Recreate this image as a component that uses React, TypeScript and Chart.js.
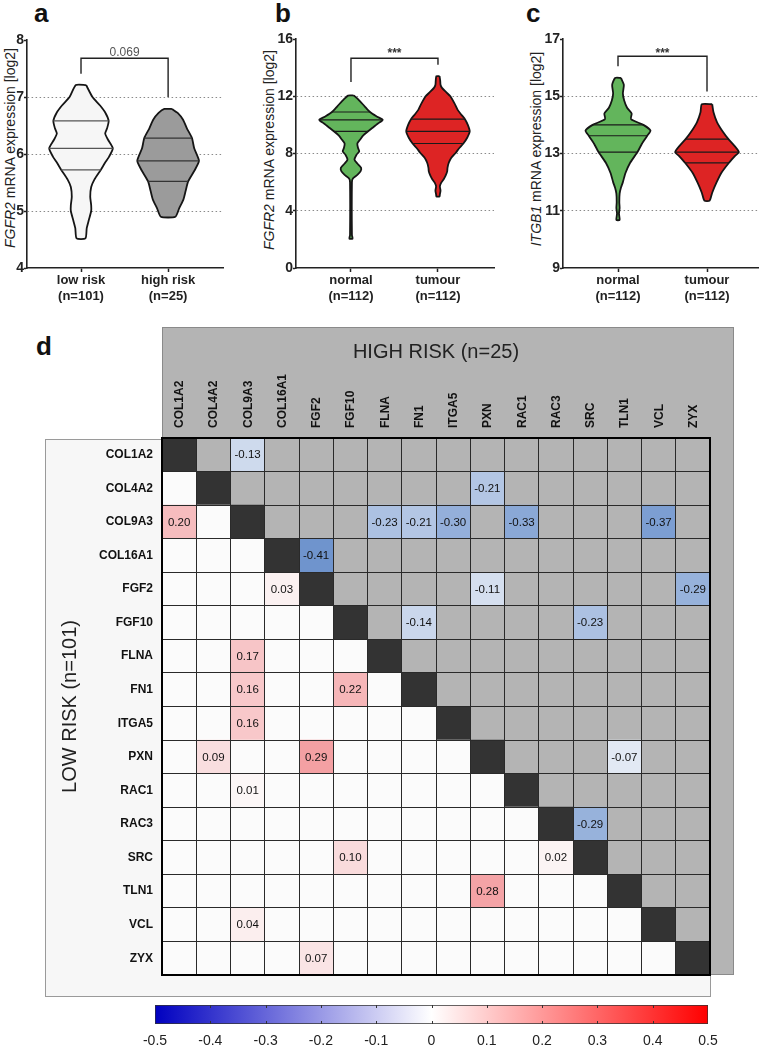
import React, { useEffect, useRef } from 'react';
import { Chart, registerables } from 'chart.js';

Chart.register(...registerables);

const FONT = '"Liberation Sans", Arial, Helvetica, sans-serif';
Chart.defaults.font.family = FONT;

// ---------------- Panel a: FGFR2, low vs high risk ----------------
const A_CATEGORIES = [['low risk', '(n=101)'], ['high risk', '(n=25)']];
// [value, relative half-width]
const A_LOW_PROFILE: [number, number][] = [
  [7.21, 0.16], [7.0, 0.36], [6.85, 0.6], [6.72, 0.77], [6.58, 0.87], [6.45, 0.82], [6.36, 0.76],
  [6.25, 0.85], [6.1, 1.0], [5.95, 0.88], [5.85, 0.76], [5.72, 0.62], [5.55, 0.42], [5.42, 0.32],
  [5.25, 0.29], [5.1, 0.32], [5.0, 0.32], [4.85, 0.25], [4.7, 0.18], [4.52, 0.14],
];
const A_HIGH_PROFILE: [number, number][] = [
  [6.79, 0.12], [6.72, 0.3], [6.6, 0.47], [6.45, 0.59], [6.28, 0.75], [6.1, 0.82], [5.88, 0.97],
  [5.72, 0.84], [5.52, 0.63], [5.35, 0.55], [5.2, 0.48], [5.05, 0.35], [4.9, 0.23],
];
const A_LOW_QUARTILES: [number, number][] = [[6.58, 0.87], [6.1, 1.0], [5.72, 0.62]];
const A_HIGH_QUARTILES: [number, number][] = [[6.28, 0.75], [5.88, 0.97], [5.52, 0.63]];
const A_BRACKET: [number, number][] = [[1, 7.41], [1, 7.68], [2, 7.68], [2, 7.0]];
const A_P_TEXT = '0.069';

// ---------------- Panel b: FGFR2, normal vs tumour ----------------
const BC_CATEGORIES = [['normal', '(n=112)'], ['tumour', '(n=112)']];
const B_NORMAL_PROFILE: [number, number][] = [
  [12.05, 0.09], [11.8, 0.22], [11.3, 0.43], [10.9, 0.6], [10.6, 0.8], [10.35, 1.0], [10.1, 0.85],
  [9.8, 0.68], [9.55, 0.54], [9.25, 0.38], [8.98, 0.29], [8.7, 0.2], [8.4, 0.22], [8.15, 0.26],
  [7.9, 0.17], [7.57, 0.11], [7.3, 0.2], [7.0, 0.32], [6.75, 0.3], [6.5, 0.2], [6.25, 0.06],
  [6.0, 0.03], [2.3, 0.03], [2.05, 0.05],
];
const B_TUMOUR_PROFILE: [number, number][] = [
  [13.4, 0.05], [13.1, 0.07], [12.8, 0.08], [12.6, 0.12], [12.3, 0.25], [12.0, 0.39], [11.5, 0.52],
  [11.05, 0.62], [10.7, 0.74], [10.4, 0.85], [10.0, 0.94], [9.55, 1.0], [9.1, 0.92], [8.7, 0.8],
  [8.35, 0.66], [8.05, 0.56], [7.7, 0.42], [7.35, 0.34], [7.0, 0.3], [6.75, 0.29], [6.45, 0.24],
  [6.2, 0.18], [5.95, 0.1], [5.7, 0.06], [5.4, 0.08], [5.15, 0.06], [5.0, 0.05],
];
const B_NORMAL_QUARTILES: [number, number][] = [[10.9, 0.6], [10.35, 1.0], [9.55, 0.54]];
const B_TUMOUR_QUARTILES: [number, number][] = [[10.4, 0.85], [9.55, 1.0], [8.7, 0.8]];
const B_BRACKET: [number, number][] = [[1, 13.0], [1, 14.65], [2, 14.65], [2, 14.2]];

// ---------------- Panel c: ITGB1, normal vs tumour ----------------
const C_NORMAL_PROFILE: [number, number][] = [
  [15.64, 0.09], [15.4, 0.18], [15.1, 0.15], [14.85, 0.19], [14.6, 0.28], [14.4, 0.42], [14.2, 0.4],
  [14.0, 0.78], [13.8, 1.0], [13.62, 0.9], [13.35, 0.74], [13.05, 0.6], [12.67, 0.37], [12.32, 0.23],
  [12.0, 0.15], [11.8, 0.09], [11.6, 0.05], [11.3, 0.04], [11.1, 0.05], [10.9, 0.03], [10.68, 0.05],
];
const C_TUMOUR_PROFILE: [number, number][] = [
  [14.72, 0.16], [14.44, 0.2], [14.09, 0.31], [13.74, 0.5], [13.5, 0.66], [13.3, 0.82], [13.05, 0.98],
  [12.9, 0.85], [12.67, 0.67], [12.32, 0.44], [11.98, 0.29], [11.63, 0.16], [11.35, 0.08],
];
const C_NORMAL_QUARTILES: [number, number][] = [[14.0, 0.78], [13.62, 0.9], [13.05, 0.6]];
const C_TUMOUR_QUARTILES: [number, number][] = [[13.5, 0.66], [13.05, 0.98], [12.67, 0.67]];
const C_BRACKET: [number, number][] = [[1, 16.05], [1, 16.4], [2, 16.4], [2, 15.17]];
const SIG_TEXT = '***';

// ---------------- Panel d: correlation matrix ----------------
const GENES = ['COL1A2', 'COL4A2', 'COL9A3', 'COL16A1', 'FGF2', 'FGF10', 'FLNA', 'FN1', 'ITGA5', 'PXN', 'RAC1', 'RAC3', 'SRC', 'TLN1', 'VCL', 'ZYX'];
// [row gene, column gene, r] – upper triangle, high risk
const HIGH_RISK_CORR: [string, string, number][] = [
  ['COL1A2', 'COL9A3', -0.13],
  ['COL4A2', 'PXN', -0.21],
  ['COL9A3', 'FLNA', -0.23], ['COL9A3', 'FN1', -0.21], ['COL9A3', 'ITGA5', -0.30], ['COL9A3', 'RAC1', -0.33], ['COL9A3', 'VCL', -0.37],
  ['COL16A1', 'FGF2', -0.41],
  ['FGF2', 'PXN', -0.11], ['FGF2', 'ZYX', -0.29],
  ['FGF10', 'FN1', -0.14], ['FGF10', 'SRC', -0.23],
  ['PXN', 'TLN1', -0.07],
  ['RAC3', 'SRC', -0.29],
];
// lower triangle, low risk
const LOW_RISK_CORR: [string, string, number][] = [
  ['COL9A3', 'COL1A2', 0.20],
  ['FGF2', 'COL16A1', 0.03],
  ['FLNA', 'COL9A3', 0.17],
  ['FN1', 'COL9A3', 0.16], ['FN1', 'FGF10', 0.22],
  ['ITGA5', 'COL9A3', 0.16],
  ['PXN', 'COL4A2', 0.09], ['PXN', 'FGF2', 0.29],
  ['RAC1', 'COL9A3', 0.01],
  ['SRC', 'FGF10', 0.10], ['SRC', 'RAC3', 0.02],
  ['TLN1', 'PXN', 0.28],
  ['VCL', 'COL9A3', 0.04],
  ['ZYX', 'FGF2', 0.07],
];
const COLORBAR_MIN = -0.5;
const COLORBAR_MAX = 0.5;
const COLORBAR_STEP = 0.1;

// ---------------- helpers ----------------
const VW = 0.365; // half-width of widest violin part in x units

type ViolinSpec = {
  categories: string[][];
  profiles: [number, number][][];
  quartiles: [number, number][][];
  fills: string[];
  quartileColors: string[];
  yMin: number; yMax: number; yStep: number;
  xMin: number; xMax: number;
  bracket: [number, number][];
  sigText: string; sigY: number; sigBold: boolean; sigColor: string; sigSize: number;
  yAxisWidth: number; xAxisHeight: number; padTop: number; padRight: number;
};

function makeViolinConfig(s: ViolinSpec): any {
  const datasets: any[] = [];
  s.profiles.forEach((prof, i) => {
    const c = i + 1;
    const right = prof.map(([y, w]) => ({ x: c + w * VW, y }));
    const left = prof.slice().reverse().map(([y, w]) => ({ x: c - w * VW, y }));
    datasets.push({
      data: [...right, ...left, right[0]],
      showLine: true, fill: 'shape', backgroundColor: s.fills[i],
      borderColor: '#151515', borderWidth: 1.8, pointRadius: 0, tension: 0.2, order: 2,
    });
  });
  s.quartiles.forEach((qs, i) => {
    const c = i + 1;
    qs.forEach(([y, w]) => {
      datasets.push({
        data: [{ x: c - w * VW, y }, { x: c + w * VW, y }],
        showLine: true, fill: false, borderColor: s.quartileColors[i], borderWidth: 1.2, pointRadius: 0, order: 1,
      });
    });
  });
  datasets.push({
    data: s.bracket.map(([x, y]) => ({ x, y })),
    showLine: true, fill: false, borderColor: '#222', borderWidth: 1.4, pointRadius: 0, order: 0,
  });

  const sigPlugin = {
    id: 'sig',
    afterDatasetsDraw(chart: any) {
      const { ctx, scales } = chart;
      ctx.save();
      ctx.fillStyle = s.sigColor;
      ctx.font = `${s.sigBold ? 'bold ' : ''}${s.sigSize}px ${FONT}`;
      ctx.textAlign = 'center';
      ctx.textBaseline = 'middle';
      ctx.fillText(s.sigText, scales.x.getPixelForValue(1.5), scales.y.getPixelForValue(s.sigY));
      ctx.restore();
    },
  };

  return {
    type: 'scatter',
    data: { datasets },
    plugins: [sigPlugin],
    options: {
      responsive: false,
      animation: false,
      events: [],
      layout: { padding: { left: 0, top: s.padTop, right: s.padRight, bottom: 0 } },
      plugins: { legend: { display: false }, tooltip: { enabled: false } },
      scales: {
        x: {
          type: 'linear', min: s.xMin, max: s.xMax,
          afterBuildTicks: (sc: any) => { sc.ticks = [{ value: 1 }, { value: 2 }]; },
          afterFit: (sc: any) => { sc.height = s.xAxisHeight; },
          ticks: {
            callback: (_v: any, i: number) => s.categories[i],
            font: { size: 13, weight: 'bold' }, color: '#222', padding: 1, maxRotation: 0, autoSkip: false,
          },
          grid: { drawOnChartArea: false, tickLength: 4, tickColor: '#222', tickWidth: 1.5 },
          border: { color: '#222', width: 1.6 },
        },
        y: {
          type: 'linear', min: s.yMin, max: s.yMax,
          afterFit: (sc: any) => { sc.width = s.yAxisWidth; },
          ticks: { stepSize: s.yStep, font: { size: 14, weight: 'bold' }, color: '#222', padding: 0 },
          grid: {
            color: (ctx: any) => (ctx.tick && (ctx.tick.value === s.yMin || ctx.tick.value === s.yMax)) ? 'rgba(0,0,0,0)' : '#8a8a8a',
            lineWidth: 1, tickLength: 3, tickColor: '#222', tickWidth: 1.5,
          },
          border: { color: '#222', width: 1.6, dash: [1.5, 2.5] },
        },
      },
    },
  };
}

function mix(a: number[], b: number[], t: number) {
  const c = a.map((v, i) => Math.round(v + (b[i] - v) * t));
  return `rgb(${c[0]},${c[1]},${c[2]})`;
}

function cellColor(row: string, col: string, v: number | null) {
  if (row === col) return '#333333';
  const r = GENES.indexOf(row), c = GENES.indexOf(col);
  if (v == null) return r < c ? '#b4b4b4' : '#fbfbfb';
  const t = Math.min(1, Math.abs(v) / COLORBAR_MAX);
  return v < 0 ? mix([250, 250, 252], [80, 125, 195], t) : mix([252, 250, 250], [238, 95, 100], t);
}

function makeHeatmapConfig(): any {
  const lookup = new Map<string, number>();
  [...HIGH_RISK_CORR, ...LOW_RISK_CORR].forEach(([r, c, v]) => lookup.set(r + '|' + c, v));
  const cells: any[] = [];
  GENES.forEach((r) => GENES.forEach((c) => {
    const v = lookup.has(r + '|' + c) ? (lookup.get(r + '|' + c) as number) : null;
    cells.push({ x: c, y: r, v });
  }));

  const cellRadius = (ctx: any) => {
    const ca = ctx.chart.chartArea;
    if (!ca) return 10;
    return (ca.right - ca.left) / GENES.length / 2 / Math.SQRT1_2;
  };

  const textPlugin = {
    id: 'cellText',
    afterDraw(chart: any) {
      const { ctx, chartArea } = chart;
      const meta = chart.getDatasetMeta(0);
      ctx.save();
      ctx.font = `11.5px ${FONT}`;
      ctx.fillStyle = '#111';
      ctx.textAlign = 'center';
      ctx.textBaseline = 'middle';
      meta.data.forEach((pt: any, i: number) => {
        const cell = cells[i];
        if (cell.v != null && cell.x !== cell.y) ctx.fillText(cell.v.toFixed(2), pt.x, pt.y + 0.5);
      });
      ctx.strokeStyle = '#000';
      ctx.lineWidth = 2;
      ctx.strokeRect(chartArea.left, chartArea.top, chartArea.right - chartArea.left, chartArea.bottom - chartArea.top);
      ctx.restore();
    },
  };

  const gridOpts = { offset: true, color: '#2a2a2a', lineWidth: 1, z: 1, drawTicks: false };

  return {
    type: 'scatter',
    data: {
      datasets: [{
        data: cells,
        pointStyle: 'rect',
        pointRadius: cellRadius,
        pointHoverRadius: cellRadius,
        pointBackgroundColor: (ctx: any) => cellColor(ctx.raw.y, ctx.raw.x, ctx.raw.v),
        pointBorderWidth: 0,
      }],
    },
    plugins: [textPlugin],
    options: {
      responsive: false,
      animation: false,
      events: [],
      layout: { padding: { left: 45, top: 0, right: 52, bottom: 35 } },
      plugins: { legend: { display: false }, tooltip: { enabled: false } },
      scales: {
        x: {
          type: 'category', labels: GENES, position: 'top', offset: true,
          afterFit: (sc: any) => { sc.height = 118; },
          grid: gridOpts,
          border: { display: false },
          ticks: { font: { size: 12, weight: 'bold' }, color: '#111', minRotation: 90, maxRotation: 90, autoSkip: false, padding: 10, labelOffset: 15 },
          title: { display: true, text: 'HIGH RISK (n=25)', font: { size: 20 }, color: '#222', padding: { top: 20, bottom: 0 } },
        },
        y: {
          type: 'category', labels: GENES, position: 'left', offset: true,
          afterFit: (sc: any) => { sc.width = 117; },
          grid: gridOpts,
          border: { display: false },
          ticks: { font: { size: 12, weight: 'bold' }, color: '#111', padding: 9, autoSkip: false },
          title: { display: true, text: 'LOW RISK (n=101)', font: { size: 20 }, color: '#222', padding: { top: 13, bottom: 0 } },
        },
      },
    },
  };
}

function makeColorbarConfig(): any {
  const tickPlugin = {
    id: 'cbTicks',
    afterDatasetsDraw(chart: any) {
      const { ctx, chartArea, scales } = chart;
      ctx.save();
      ctx.strokeStyle = '#333';
      ctx.lineWidth = 1;
      scales.x.ticks.forEach((t: any) => {
        if (t.value <= COLORBAR_MIN + 1e-9 || t.value >= COLORBAR_MAX - 1e-9) return;
        const x = Math.round(scales.x.getPixelForValue(t.value)) + 0.5;
        ctx.beginPath();
        ctx.moveTo(x, chartArea.top); ctx.lineTo(x, chartArea.top + 3);
        ctx.moveTo(x, chartArea.bottom); ctx.lineTo(x, chartArea.bottom - 3);
        ctx.stroke();
      });
      ctx.restore();
    },
  };
  return {
    type: 'bar',
    data: {
      labels: [''],
      datasets: [{
        data: [[COLORBAR_MIN, COLORBAR_MAX]],
        backgroundColor: (ctx: any) => {
          const chart = ctx.chart;
          if (!chart.chartArea) return '#ffffff';
          const xs = chart.scales.x;
          const g = chart.ctx.createLinearGradient(xs.getPixelForValue(COLORBAR_MIN), 0, xs.getPixelForValue(COLORBAR_MAX), 0);
          g.addColorStop(0, '#0000c0');
          g.addColorStop(0.5, '#ffffff');
          g.addColorStop(1, '#ff0000');
          return g;
        },
        borderColor: '#333',
        borderWidth: 1,
        borderSkipped: false,
        barPercentage: 1,
        categoryPercentage: 1,
      }],
    },
    plugins: [tickPlugin],
    options: {
      indexAxis: 'y',
      responsive: false,
      animation: false,
      events: [],
      layout: { padding: { left: 155, top: 13, right: 54, bottom: 0 } },
      plugins: { legend: { display: false }, tooltip: { enabled: false } },
      scales: {
        x: {
          type: 'linear', min: COLORBAR_MIN, max: COLORBAR_MAX,
          afterFit: (sc: any) => { sc.height = 21; },
          ticks: {
            stepSize: COLORBAR_STEP,
            callback: (v: number) => (Math.abs(v) < 1e-9 ? '0' : v.toFixed(1)),
            font: { size: 14 }, color: '#222', padding: 1,
          },
          grid: { display: false },
          border: { display: false },
        },
        y: { display: false },
      },
    },
  };
}

function ChartBox({ make, left, top, width, height }: { make: () => any; left: number; top: number; width: number; height: number }) {
  const ref = useRef<HTMLCanvasElement>(null);
  useEffect(() => {
    const chart = new Chart(ref.current as HTMLCanvasElement, make());
    return () => chart.destroy();
  }, []);
  return (
    <div style={{ position: 'absolute', left, top, width, height }}>
      <canvas ref={ref} width={width} height={height} style={{ display: 'block' }} />
    </div>
  );
}

function Letter({ ch, left, top }: { ch: string; left: number; top: number }) {
  return (
    <div style={{ position: 'absolute', left, top, fontFamily: FONT, fontWeight: 'bold', fontSize: 26, lineHeight: '26px', color: '#111' }}>{ch}</div>
  );
}

function YTitle({ gene, cx, cy }: { gene: string; cx: number; cy: number }) {
  return (
    <div style={{
      position: 'absolute', left: cx, top: cy, transform: 'translate(-50%, -50%) rotate(-90deg)',
      whiteSpace: 'nowrap', fontFamily: FONT, fontSize: 14, color: '#222', lineHeight: '16px',
    }}>
      <i>{gene}</i> mRNA expression [log2]
    </div>
  );
}

export default function App() {
  const specA: ViolinSpec = {
    categories: A_CATEGORIES, profiles: [A_LOW_PROFILE, A_HIGH_PROFILE], quartiles: [A_LOW_QUARTILES, A_HIGH_QUARTILES],
    fills: ['#f6f6f6', '#9b9b9b'], quartileColors: ['#555', '#333'],
    yMin: 4, yMax: 8, yStep: 1, xMin: 0.38, xMax: 2.63, bracket: A_BRACKET,
    sigText: A_P_TEXT, sigY: 7.78, sigBold: false, sigColor: '#555', sigSize: 12,
    yAxisWidth: 27, xAxisHeight: 52, padTop: 40, padRight: 27,
  };
  const specB: ViolinSpec = {
    categories: BC_CATEGORIES, profiles: [B_NORMAL_PROFILE, B_TUMOUR_PROFILE], quartiles: [B_NORMAL_QUARTILES, B_TUMOUR_QUARTILES],
    fills: ['#63b55c', '#dd2424'], quartileColors: ['#1a1a1a', '#1a1a1a'],
    yMin: 0, yMax: 16, yStep: 4, xMin: 0.368, xMax: 2.644, bracket: B_BRACKET,
    sigText: SIG_TEXT, sigY: 14.95, sigBold: true, sigColor: '#333', sigSize: 12,
    yAxisWidth: 42, xAxisHeight: 52, padTop: 39, padRight: 14,
  };
  const specC: ViolinSpec = {
    categories: BC_CATEGORIES, profiles: [C_NORMAL_PROFILE, C_TUMOUR_PROFILE], quartiles: [C_NORMAL_QUARTILES, C_TUMOUR_QUARTILES],
    fills: ['#63b55c', '#dd2424'], quartileColors: ['#1a1a1a', '#1a1a1a'],
    yMin: 9, yMax: 17, yStep: 2, xMin: 0.382, xMax: 2.573, bracket: C_BRACKET,
    sigText: SIG_TEXT, sigY: 16.5, sigBold: true, sigColor: '#333', sigSize: 12,
    yAxisWidth: 55, xAxisHeight: 52, padTop: 39, padRight: 4,
  };

  return (
    <div style={{ position: 'absolute', left: 0, top: 0, width: 762, height: 1045, overflow: 'hidden', background: '#fff' }}>
      <Letter ch="a" left={34} top={0} />
      <Letter ch="b" left={275} top={0} />
      <Letter ch="c" left={526} top={0} />
      <Letter ch="d" left={36} top={333} />

      <YTitle gene="FGFR2" cx={10} cy={148} />
      <YTitle gene="FGFR2" cx={269} cy={150} />
      <YTitle gene="ITGB1" cx={536} cy={149} />

      <ChartBox make={() => makeViolinConfig(specA)} left={0} top={0} width={250} height={320} />
      <ChartBox make={() => makeViolinConfig(specB)} left={254} top={0} width={254} height={320} />
      <ChartBox make={() => makeViolinConfig(specC)} left={508} top={0} width={254} height={320} />

      {/* panel d backgrounds */}
      <div style={{ position: 'absolute', left: 45, top: 439, width: 666, height: 558, background: '#f7f7f7', border: '1px solid #9a9a9a', boxSizing: 'border-box' }} />
      <div style={{ position: 'absolute', left: 162, top: 327, width: 572, height: 648, background: '#b4b4b4', border: '1px solid #8a8a8a', boxSizing: 'border-box' }} />

      <ChartBox make={makeHeatmapConfig} left={0} top={320} width={762} height={690} />
      <ChartBox make={makeColorbarConfig} left={0} top={992} width={762} height={53} />
    </div>
  );
}
